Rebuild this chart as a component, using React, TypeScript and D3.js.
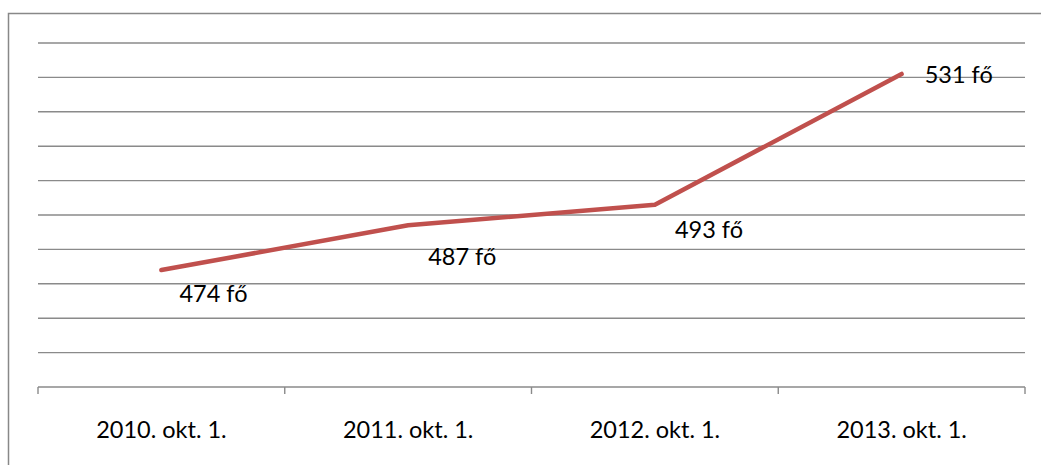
import { useEffect, useRef } from "react";
import * as d3 from "d3";

const categories = ["2010. okt. 1.", "2011. okt. 1.", "2012. okt. 1.", "2013. okt. 1."];
const values = [474, 487, 493, 531];
const labels = ["474 fő", "487 fő", "493 fő", "531 fő"];
// label offsets relative to the point, as placed in the original chart
const labelDx = [18, 20, 20, 23];
const labelDy = [32, 40, 33, 9];
const yTicks = d3.range(440, 541, 10);

export default function App() {
  const ref = useRef<SVGSVGElement | null>(null);

  useEffect(() => {
    if (!ref.current) return;
    const svg = d3.select(ref.current);
    svg.selectAll("*").remove();

    const width = 1041;
    const height = 465;
    const plot = { left: 38, right: 1025, top: 43, bottom: 387 };

    svg.attr("width", width).attr("height", height);

    // outer chart border (runs off the picture on the right and bottom)
    svg.append("rect")
      .attr("x", 8.5)
      .attr("y", 13.5)
      .attr("width", 1060)
      .attr("height", 480)
      .attr("fill", "white")
      .attr("stroke", "#888")
      .attr("stroke-width", 1.5);

    const x = d3.scaleBand<string>()
      .domain(categories)
      .range([plot.left, plot.right]);

    const y = d3.scaleLinear()
      .domain([440, 540])
      .range([plot.bottom, plot.top]);

    // gridlines
    svg.append("g")
      .selectAll("line")
      .data(yTicks)
      .enter()
      .append("line")
      .attr("x1", plot.left)
      .attr("x2", plot.right)
      .attr("y1", d => y(d))
      .attr("y2", d => y(d))
      .attr("stroke", "#8a8a8a")
      .attr("stroke-width", 1.4);

    // x axis
    const xAxis = svg.append("g")
      .attr("transform", `translate(0,${plot.bottom})`)
      .call(d3.axisBottom(x).tickSize(0).tickPadding(34));
    xAxis.select(".domain").remove();
    xAxis.selectAll("text")
      .attr("fill", "#000")
      .attr("font-family", "Lato, sans-serif")
      .attr("font-size", "23.5px");

    const boundaries = categories.map(c => x(c)!).concat([plot.right]);
    svg.append("g")
      .selectAll("line")
      .data(boundaries)
      .enter()
      .append("line")
      .attr("x1", d => d)
      .attr("x2", d => d)
      .attr("y1", plot.bottom)
      .attr("y2", plot.bottom + 7)
      .attr("stroke", "#8a8a8a")
      .attr("stroke-width", 1.4);

    // series line
    const pts = values.map((v, i) => [x(categories[i])! + x.bandwidth() / 2, y(v)] as [number, number]);
    svg.append("path")
      .attr("d", d3.line()(pts))
      .attr("fill", "none")
      .attr("stroke", "#C0504D")
      .attr("stroke-width", 4.5)
      .attr("stroke-linecap", "round")
      .attr("stroke-linejoin", "round");

    // data labels
    svg.append("g")
      .selectAll("text")
      .data(labels)
      .enter()
      .append("text")
      .attr("x", (d, i) => pts[i][0] + labelDx[i])
      .attr("y", (d, i) => pts[i][1] + labelDy[i])
      .attr("fill", "#000")
      .attr("font-family", "Lato, sans-serif")
      .attr("font-size", "23.5px")
      .text(d => d);
  }, []);

  return (
    <svg ref={ref} style={{ position: "absolute", left: 0, top: 0, display: "block" }} />
  );
}
